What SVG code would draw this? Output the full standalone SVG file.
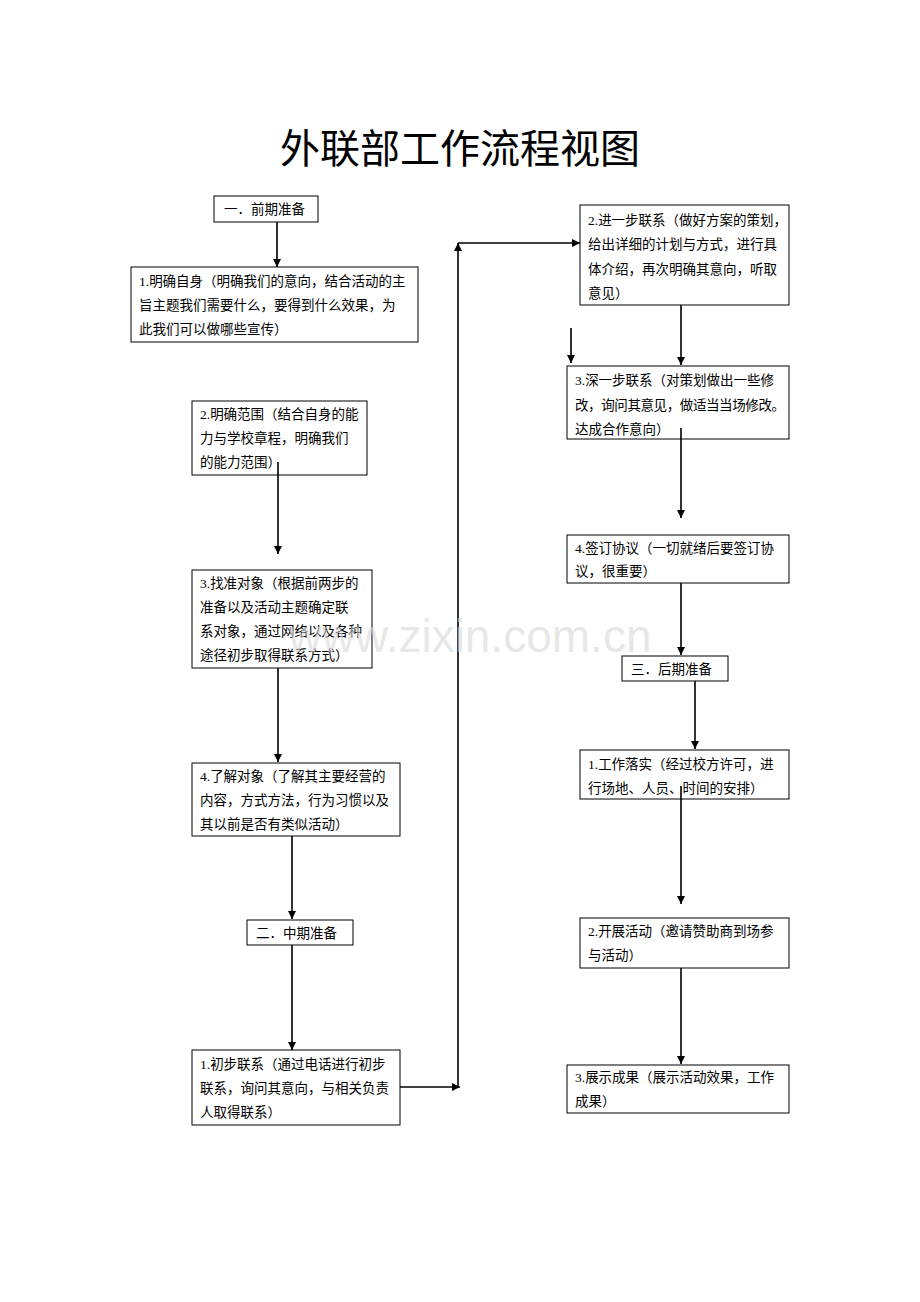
<svg xmlns="http://www.w3.org/2000/svg" width="920" height="1302" viewBox="0 0 920 1302">
<defs>
<marker id="ah" viewBox="0 0 10 10" refX="10" refY="5" markerWidth="8" markerHeight="8" markerUnits="userSpaceOnUse" orient="auto"><path d="M0,0 L10,5 L0,10 z" fill="#000"/></marker>
<style>
rect{fill:#fff;stroke:#000;stroke-width:1}
text{font-family:"Liberation Serif","Noto Sans CJK SC",serif;font-size:13.5px;fill:#000}
.t{font-size:40px}
.wm{font-family:"Liberation Sans",sans-serif;font-size:46px;fill:#d8d8d8;fill-opacity:0.6}
#conn line,#conn polyline{stroke:#000;stroke-width:1.6;fill:none;marker-end:url(#ah)}
</style>
</defs>
<rect x="0" y="0" width="920" height="1302" style="stroke:none"/>
<text class="t" x="460" y="163" text-anchor="middle">外联部工作流程视图</text>
<g id="n0"><rect x="214" y="196" width="104" height="26"/><text x="224" y="214">一．前期准备</text></g>
<g id="n1"><rect x="131" y="267" width="287" height="75"/><text x="139" y="286">1.明确自身（明确我们的意向，结合活动的主</text><text x="139" y="310">旨主题我们需要什么，要得到什么效果，为</text><text x="139" y="334">此我们可以做哪些宣传）</text></g>
<g id="n2"><rect x="192" y="401" width="175" height="74"/><text x="200" y="419">2.明确范围（结合自身的能</text><text x="200" y="443">力与学校章程，明确我们</text><text x="200" y="467">的能力范围）</text></g>
<g id="n3"><rect x="192" y="570" width="180" height="98"/><text x="200" y="588">3.找准对象（根据前两步的</text><text x="200" y="612">准备以及活动主题确定联</text><text x="200" y="636">系对象，通过网络以及各种</text><text x="200" y="660">途径初步取得联系方式）</text></g>
<g id="n4"><rect x="192" y="763" width="208" height="73"/><text x="200" y="781">4.了解对象（了解其主要经营的</text><text x="200" y="805">内容，方式方法，行为习惯以及</text><text x="200" y="829">其以前是否有类似活动）</text></g>
<g id="n5"><rect x="247" y="920" width="106" height="25"/><text x="256" y="938">二．中期准备</text></g>
<g id="n6"><rect x="192" y="1050" width="208" height="75"/><text x="200" y="1069">1.初步联系（通过电话进行初步</text><text x="200" y="1093">联系，询问其意向，与相关负责</text><text x="200" y="1117">人取得联系）</text></g>
<g id="n7"><rect x="580" y="205" width="209" height="100"/><text x="588" y="225">2.进一步联系（做好方案的策划，</text><text x="588" y="249">给出详细的计划与方式，进行具</text><text x="588" y="274">体介绍，再次明确其意向，听取</text><text x="588" y="298">意见）</text></g>
<g id="n8"><rect x="567" y="366" width="222" height="73"/><text x="575" y="385">3.深一步联系（对策划做出一些修</text><text x="575" y="410" textLength="210">改，询问其意见，做适当当场修改。</text><text x="575" y="434">达成合作意向）</text></g>
<g id="n9"><rect x="567" y="535" width="222" height="48"/><text x="575" y="553">4.签订协议（一切就绪后要签订协</text><text x="575" y="576">议，很重要）</text></g>
<g id="n10"><rect x="622" y="656" width="106" height="25"/><text x="631" y="674">三．后期准备</text></g>
<g id="n11"><rect x="580" y="750" width="209" height="49"/><text x="588" y="769">1.工作落实（经过校方许可，进</text><text x="588" y="793">行场地、人员、时间的安排）</text></g>
<g id="n12"><rect x="580" y="918" width="209" height="50"/><text x="588" y="936">2.开展活动（邀请赞助商到场参</text><text x="588" y="960">与活动）</text></g>
<g id="n13"><rect x="567" y="1065" width="222" height="48"/><text x="575" y="1082">3.展示成果（展示活动效果，工作</text><text x="575" y="1106">成果）</text></g>
<g id="conn">
<line x1="277" y1="222" x2="277" y2="267"/>
<line x1="278" y1="462" x2="278" y2="554"/>
<line x1="278" y1="668" x2="278" y2="762"/>
<line x1="292" y1="836" x2="292" y2="919"/>
<line x1="292" y1="945" x2="292" y2="1050"/>
<line x1="400" y1="1087" x2="460" y2="1087"/>
<line x1="458" y1="1087" x2="458" y2="243"/>
<line x1="458" y1="243" x2="580" y2="243"/>
<line x1="571" y1="328" x2="571" y2="363"/>
<line x1="681" y1="305" x2="681" y2="365"/>
<line x1="681" y1="428" x2="681" y2="518"/>
<line x1="681" y1="583" x2="681" y2="655"/>
<line x1="695" y1="681" x2="695" y2="749"/>
<line x1="681" y1="786" x2="681" y2="904"/>
<line x1="681" y1="968" x2="681" y2="1064"/>
</g>
<text class="wm" x="470" y="652" text-anchor="middle">www.zixin.com.cn</text>
</svg>
